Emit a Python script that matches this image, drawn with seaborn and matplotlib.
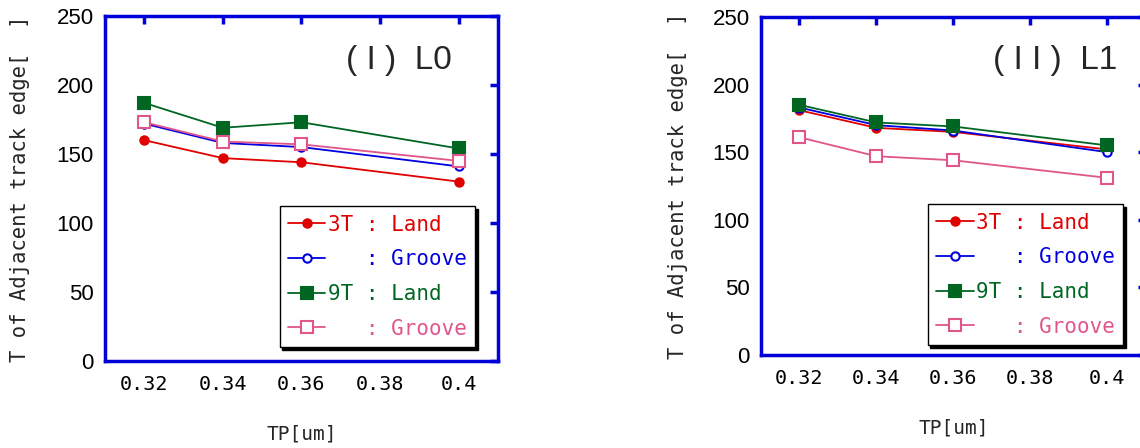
import matplotlib
matplotlib.use("Agg")
import matplotlib.pyplot as plt
import seaborn as sns

sns.set_theme(style="white")
plt.rcParams["font.family"] = ["DejaVu Sans Mono", "DejaVu Sans"]

# data
tp = [0.32, 0.34, 0.36, 0.40]

l0_3t_land = [160, 147, 144, 130]
l0_3t_groove = [172, 158, 155, 141]
l0_9t_land = [187, 169, 173, 154]
l0_9t_groove = [173, 159, 157, 145]

l1_3t_land = [181, 168, 165, 152]
l1_3t_groove = [183, 170, 166, 150]
l1_9t_land = [185, 172, 169, 155]
l1_9t_groove = [161, 147, 144, 131]

labels = ["3T : Land", "   : Groove", "9T : Land", "   : Groove"]
xticks = [0.32, 0.34, 0.36, 0.38, 0.40]
xticklabels = ["0.32", "0.34", "0.36", "0.38", "0.4"]
yticks = [0, 50, 100, 150, 200, 250]

RED = "#e00000"
BLUE = "#0000e0"
GREEN = "#006622"
PINK = "#e0558a"
SPINE = "#0000d8"

styles = [
    dict(color=RED, marker="o", markerfacecolor=RED, markersize=6),
    dict(color=BLUE, marker="o", markerfacecolor="white", markersize=6),
    dict(color=GREEN, marker="s", markerfacecolor=GREEN, markersize=8),
    dict(color=PINK, marker="s", markerfacecolor="white", markersize=8),
]


def draw_panel(ax, series, title, title_x, leg_anchor):
    for vals, lab, st in zip(series, labels, styles):
        sns.lineplot(x=tp, y=vals, ax=ax, label=lab, linewidth=1.3,
                     markeredgewidth=1.5, markeredgecolor=st["color"], **st)
    ax.set_xlim(0.31, 0.41)
    ax.set_ylim(0, 250)
    ax.set_xticks(xticks)
    ax.set_xticklabels(xticklabels, fontsize=14.5)
    ax.set_yticks(yticks)
    ax.set_yticklabels([str(v) for v in yticks], fontsize=16,
                       family="Liberation Sans")
    for sp in ax.spines.values():
        sp.set_color(SPINE)
        sp.set_linewidth(2.5)
    ax.tick_params(axis="both", which="both", direction="in", top=True,
                   right=True, color=SPINE, width=2.5, length=6,
                   labelcolor="black")
    ax.tick_params(axis="x", pad=10)
    ax.tick_params(axis="y", pad=8)
    ax.set_xlabel("TP[um]", fontsize=14, labelpad=22)
    ax.set_ylabel("T of Adjacent track edge[  ]", fontsize=14.8)
    ax.yaxis.set_label_coords(-0.19, 0.5)
    ax.text(title_x, 0.87, title, transform=ax.transAxes, ha="right",
            va="center", fontsize=24, family="Liberation Sans")
    leg = ax.legend(loc="lower right", bbox_to_anchor=leg_anchor,
                    fontsize=15, labelcolor="linecolor", frameon=True,
                    fancybox=False, framealpha=1, edgecolor="black",
                    shadow={"color": "black", "alpha": 1, "ox": 2, "oy": -2},
                    handlelength=1.8, handletextpad=0.1, labelspacing=0.7,
                    borderpad=0.4, borderaxespad=0)
    leg.get_frame().set_linewidth(1.0)


fig = plt.figure(figsize=(11.4, 4.48), dpi=100)
ax1 = fig.add_axes([0.0921, 0.1942, 0.3447, 0.7701])
ax2 = fig.add_axes([0.6675, 0.2076, 0.3377, 0.7545])

draw_panel(ax1, [l0_3t_land, l0_3t_groove, l0_9t_land, l0_9t_groove],
           "( I )  L0", 0.883, (0.941, 0.041))
draw_panel(ax2, [l1_3t_land, l1_3t_groove, l1_9t_land, l1_9t_groove],
           "( I I )  L1", 0.925, (0.940, 0.030))

fig.savefig("out.png", dpi=100)
